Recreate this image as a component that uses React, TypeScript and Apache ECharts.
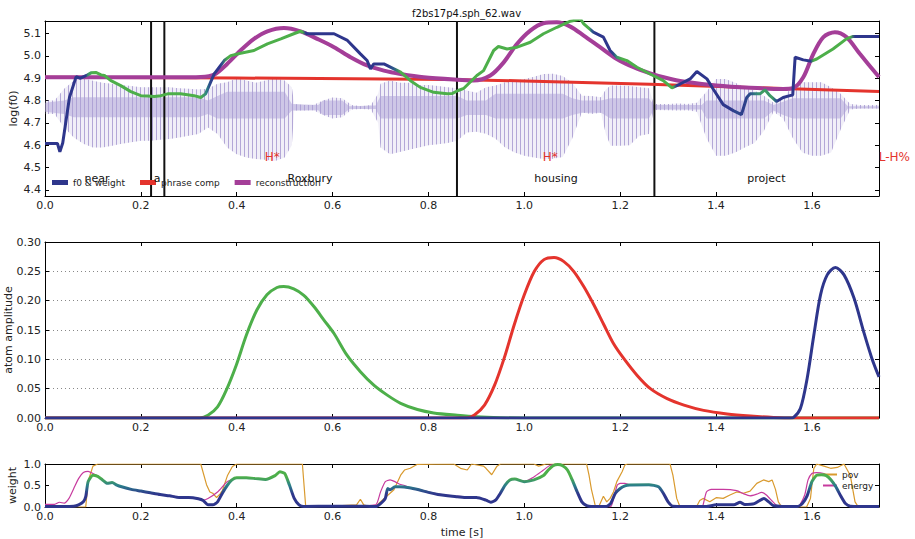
import React, { useEffect, useRef } from 'react';
import * as echarts from 'echarts';

const FONT = 'DejaVu Sans';
const NAVY = '#2e368c';
const TEAL = '#2b7f8a';
const GREEN = '#4daf4a';
const RED = '#e4342d';
const PURPLE = '#a43e98';
const ORANGE = '#d99a2e';
const MAGENTA = '#c73a9e';

const X_MAX = 1.74;
const F0_MIN = 4.373;
const F0_MAX = 5.156;
const f0TickValues = [4.4, 4.5, 4.6, 4.7, 4.8, 4.9, 5.0, 5.1];

const wordLabels = ['near', 'a', 'Roxbury', 'housing', 'project'];
const wordTimes = [0.1086, 0.2338, 0.553, 1.066, 1.505];
const wordLevel = 4.453;
const toneLabels = ['H*', 'H*', 'L-H%'];
const toneTimes = [0.474, 1.054, 1.772];
const toneLevel = 4.547;
const boundaries = [0.2213, 0.249, 0.8595, 1.2714];

const f0Data: number[][] = [
  [0, 4.608], [0.026, 4.608], [0.031, 4.571], [0.037, 4.61], [0.051, 4.814], [0.065, 4.907], [0.074, 4.9],
  [0.089, 4.915], [0.096, 4.924], [0.106, 4.926], [0.117, 4.915], [0.124, 4.912], [0.1375, 4.889], [0.158, 4.867],
  [0.179, 4.84], [0.2, 4.822], [0.214, 4.82], [0.228, 4.818], [0.242, 4.822], [0.256, 4.83], [0.283, 4.83],
  [0.311, 4.822], [0.325, 4.814], [0.335, 4.83], [0.353, 4.919], [0.374, 4.979], [0.3875, 5.001], [0.408, 5.012],
  [0.436, 5.024], [0.464, 5.054], [0.492, 5.076], [0.519, 5.099], [0.533, 5.11], [0.547, 5.099], [0.603, 5.099],
  [0.631, 5.069], [0.658, 5.009], [0.672, 4.979], [0.679, 4.942], [0.686, 4.964], [0.707, 4.964], [0.728, 4.942],
  [0.742, 4.927], [0.7625, 4.889], [0.783, 4.859], [0.811, 4.837], [0.839, 4.83], [0.85, 4.832], [0.862, 4.845],
  [0.874, 4.855], [0.901, 4.912], [0.915, 4.934], [0.936, 5.024], [0.946, 5.042], [0.964, 5.031], [0.985, 5.039],
  [1.0125, 5.061], [1.04, 5.099], [1.068, 5.128], [1.096, 5.155], [1.117, 5.165], [1.124, 5.143], [1.144, 5.106],
  [1.165, 5.084], [1.179, 5.024], [1.193, 4.994], [1.214, 4.979], [1.235, 4.949], [1.2625, 4.919], [1.29, 4.889],
  [1.308, 4.857], [1.325, 4.874], [1.346, 4.897], [1.36, 4.93], [1.381, 4.897], [1.394, 4.852], [1.415, 4.782],
  [1.436, 4.755], [1.453, 4.737], [1.464, 4.814], [1.471, 4.83], [1.4917, 4.83], [1.502, 4.848], [1.5125, 4.822],
  [1.526, 4.796], [1.54, 4.814], [1.554, 4.822], [1.56, 4.825], [1.565, 4.994], [1.582, 4.982], [1.599, 4.976],
  [1.61, 4.986], [1.644, 5.031], [1.672, 5.076], [1.686, 5.087], [1.74, 5.087],
];

const phraseData: number[][] = [
  [0, 4.904], [0.4, 4.901], [0.846, 4.894], [1.0, 4.888], [1.2625, 4.873], [1.54, 4.854], [1.74, 4.841],
];

const reconData: number[][] = [
  [0, 4.904], [0.3, 4.904], [0.325, 4.905], [0.353, 4.916], [0.38, 4.964], [0.408, 5.024], [0.436, 5.076],
  [0.464, 5.11], [0.4986, 5.125], [0.533, 5.11], [0.568, 5.076], [0.603, 5.039], [0.6375, 4.994], [0.672, 4.957],
  [0.707, 4.934], [0.742, 4.919], [0.79, 4.904], [0.86, 4.893], [0.894, 4.89], [0.929, 4.912], [0.957, 4.971],
  [0.985, 5.054], [1.0125, 5.113], [1.04, 5.146], [1.068, 5.15], [1.096, 5.131], [1.124, 5.091], [1.158, 5.039],
  [1.193, 4.986], [1.228, 4.949], [1.2625, 4.922], [1.297, 4.901], [1.332, 4.885], [1.401, 4.867], [1.471, 4.857],
  [1.54, 4.852], [1.56, 4.855], [1.582, 4.904], [1.603, 5.009], [1.624, 5.084], [1.648, 5.106], [1.672, 5.084],
  [1.7, 5.009], [1.74, 4.905],
];

// waveform envelope: [t, low, high]
const waveOuter: number[][] = [
  [0, 4.74, 4.8], [0.02, 4.74, 4.8], [0.04, 4.68, 4.853], [0.06, 4.635, 4.889], [0.08, 4.607, 4.9],
  [0.1, 4.59, 4.889], [0.12, 4.59, 4.88], [0.14, 4.598, 4.875], [0.16, 4.607, 4.87], [0.18, 4.613, 4.865],
  [0.2, 4.62, 4.86], [0.22, 4.62, 4.86], [0.24, 4.625, 4.86], [0.26, 4.628, 4.86], [0.28, 4.635, 4.855],
  [0.3, 4.643, 4.853], [0.32, 4.65, 4.85], [0.34, 4.68, 4.853], [0.36, 4.65, 4.875], [0.38, 4.59, 4.882],
  [0.4, 4.56, 4.9], [0.42, 4.545, 4.89], [0.44, 4.538, 4.88], [0.46, 4.535, 4.89], [0.48, 4.53, 4.9],
  [0.5, 4.545, 4.89], [0.515, 4.6, 4.86], [0.52, 4.755, 4.785], [0.54, 4.755, 4.78], [0.56, 4.757, 4.78],
  [0.58, 4.735, 4.8], [0.6, 4.72, 4.814], [0.62, 4.725, 4.81], [0.64, 4.76, 4.78], [0.66, 4.762, 4.775],
  [0.68, 4.76, 4.78], [0.695, 4.7, 4.83], [0.7, 4.59, 4.875], [0.72, 4.56, 4.89], [0.74, 4.57, 4.88],
  [0.76, 4.58, 4.88], [0.78, 4.59, 4.87], [0.8, 4.6, 4.87], [0.82, 4.605, 4.865], [0.84, 4.61, 4.86],
  [0.86, 4.62, 4.855], [0.88, 4.657, 4.845], [0.9, 4.66, 4.835], [0.92, 4.652, 4.86], [0.94, 4.629, 4.867],
  [0.96, 4.59, 4.882], [0.98, 4.568, 4.889], [1.0, 4.553, 4.897], [1.02, 4.545, 4.906], [1.04, 4.538, 4.919],
  [1.06, 4.54, 4.92], [1.08, 4.548, 4.91], [1.1, 4.63, 4.88], [1.12, 4.747, 4.822], [1.14, 4.74, 4.82],
  [1.16, 4.745, 4.815], [1.17, 4.65, 4.85], [1.18, 4.598, 4.867], [1.2, 4.598, 4.867], [1.22, 4.6, 4.865],
  [1.24, 4.643, 4.86], [1.26, 4.65, 4.855], [1.27, 4.758, 4.785], [1.3, 4.757, 4.785], [1.32, 4.755, 4.787],
  [1.34, 4.757, 4.785], [1.36, 4.75, 4.79], [1.38, 4.633, 4.84], [1.4, 4.553, 4.897], [1.42, 4.553, 4.897],
  [1.44, 4.568, 4.88], [1.46, 4.59, 4.86], [1.48, 4.61, 4.845], [1.5, 4.665, 4.822], [1.52, 4.75, 4.79],
  [1.54, 4.72, 4.81], [1.56, 4.633, 4.867], [1.58, 4.568, 4.882], [1.6, 4.553, 4.882], [1.62, 4.553, 4.882],
  [1.64, 4.568, 4.86], [1.66, 4.67, 4.83], [1.68, 4.76, 4.785], [1.7, 4.765, 4.78], [1.74, 4.765, 4.78],
];

const waveCore: number[][] = [
  [0, 4.75, 4.79], [0.04, 4.74, 4.8], [0.06, 4.725, 4.815], [0.32, 4.725, 4.815], [0.34, 4.74, 4.8],
  [0.36, 4.72, 4.82], [0.38, 4.72, 4.84], [0.5, 4.72, 4.84], [0.515, 4.755, 4.785], [0.57, 4.757, 4.78],
  [0.58, 4.735, 4.8], [0.62, 4.735, 4.8], [0.635, 4.762, 4.775], [0.69, 4.762, 4.778], [0.7, 4.72, 4.82],
  [0.86, 4.72, 4.82], [0.88, 4.735, 4.8], [0.92, 4.735, 4.8], [0.94, 4.72, 4.83], [1.08, 4.72, 4.83],
  [1.1, 4.735, 4.81], [1.12, 4.745, 4.8], [1.16, 4.745, 4.8], [1.18, 4.72, 4.81], [1.26, 4.72, 4.81],
  [1.27, 4.76, 4.78], [1.37, 4.76, 4.78], [1.38, 4.72, 4.8], [1.5, 4.72, 4.8], [1.52, 4.755, 4.78],
  [1.54, 4.735, 4.795], [1.56, 4.72, 4.81], [1.66, 4.72, 4.81], [1.675, 4.765, 4.775], [1.74, 4.765, 4.775],
];

const atomGreen: number[][] = [
  [0, 0], [0.323, 0], [0.34, 0.0046], [0.36, 0.019], [0.378, 0.047], [0.399, 0.09], [0.42, 0.141], [0.442, 0.184],
  [0.463, 0.21], [0.484, 0.2224], [0.498, 0.224], [0.519, 0.22], [0.54, 0.209], [0.561, 0.19], [0.582, 0.167],
  [0.603, 0.144], [0.63, 0.107], [0.658, 0.079], [0.686, 0.056], [0.714, 0.039], [0.742, 0.025], [0.777, 0.0144],
  [0.811, 0.0086], [0.86, 0.0046], [0.9, 0.002], [0.95, 0.0005], [1.0, 0], [1.74, 0],
];
const atomRed: number[][] = [
  [0, 0], [0.88, 0], [0.896, 0.005], [0.917, 0.022], [0.938, 0.056], [0.958, 0.102], [0.979, 0.159], [1.0, 0.21],
  [1.021, 0.25], [1.041, 0.27], [1.062, 0.2737], [1.082, 0.267], [1.103, 0.25], [1.124, 0.224], [1.145, 0.193],
  [1.166, 0.159], [1.186, 0.127], [1.207, 0.102], [1.235, 0.073], [1.263, 0.05], [1.298, 0.033], [1.333, 0.022],
  [1.374, 0.013], [1.423, 0.007], [1.472, 0.0034], [1.52, 0.001], [1.56, 0], [1.74, 0],
];
const atomNavy: number[][] = [
  [0, 0], [1.555, 0], [1.562, 0.001], [1.576, 0.016], [1.59, 0.067], [1.604, 0.141], [1.618, 0.21], [1.632, 0.244],
  [1.649, 0.2566], [1.667, 0.244], [1.688, 0.204], [1.708, 0.147], [1.725, 0.102], [1.74, 0.07],
];

const povData: number[][] = [
  [0, 0], [0.085, 0], [0.09, 0.6], [0.1, 0.95], [0.11, 1.0], [0.325, 1.0], [0.337, 0.52], [0.344, 0.35],
  [0.35, 0.32], [0.358, 0.22], [0.365, 0.3], [0.37, 0.38], [0.381, 0.74], [0.391, 0.94], [0.4, 1.0], [0.537, 1.0],
  [0.544, 0], [0.6, 0.02], [0.65, 0.05], [0.658, 0.18], [0.665, 0.05], [0.679, 0], [0.69, 0.02], [0.714, 0.26],
  [0.728, 0.4], [0.742, 0.74], [0.75, 0.86], [0.762, 0.9], [0.776, 0.99], [0.853, 1.0], [0.867, 0.9], [0.881, 0.86],
  [0.89, 1.0], [0.915, 0.95], [0.92, 0.9], [0.932, 0.75], [0.943, 0.95], [0.95, 1.0], [1.02, 1.0], [1.03, 0.95],
  [1.045, 1.0], [1.13, 1.0], [1.135, 0.74], [1.14, 0.41], [1.148, 0.03], [1.155, 0], [1.165, 0.25], [1.172, 0.12],
  [1.179, 0.2], [1.186, 0.35], [1.193, 0.59], [1.204, 0.82], [1.21, 0.98], [1.215, 1.0], [1.304, 1.0], [1.31, 0.74],
  [1.318, 0.2], [1.325, 0], [1.359, 0], [1.366, 0.15], [1.373, 0.2], [1.387, 0.12], [1.401, 0.22], [1.415, 0.2],
  [1.429, 0.28], [1.443, 0.35], [1.457, 0.32], [1.471, 0.37], [1.485, 0.55], [1.499, 0.63], [1.51, 0.59],
  [1.517, 0.63], [1.524, 0.41], [1.53, 0.12], [1.537, 0], [1.589, 0], [1.597, 0.2], [1.604, 0.9], [1.61, 1.0],
  [1.625, 0.95], [1.639, 0.9], [1.653, 0.92], [1.667, 1.0], [1.68, 0.74], [1.69, 0.12], [1.697, 0], [1.74, 0],
];

const energyData: number[][] = [
  [0, 0.06], [0.02, 0.06], [0.03, 0.11], [0.04, 0.09], [0.05, 0.2], [0.06, 0.43], [0.07, 0.66], [0.08, 0.8],
  [0.09, 0.83], [0.1, 0.78], [0.11, 0.72], [0.12, 0.63], [0.13, 0.55], [0.14, 0.57], [0.15, 0.51], [0.16, 0.47],
  [0.18, 0.41], [0.2, 0.37], [0.22, 0.33], [0.24, 0.29], [0.26, 0.26], [0.28, 0.23], [0.3, 0.22], [0.32, 0.2],
  [0.33, 0.16], [0.34, 0.2], [0.36, 0.35], [0.38, 0.59], [0.39, 0.64], [0.4, 0.68], [0.42, 0.68], [0.44, 0.66],
  [0.46, 0.64], [0.48, 0.73], [0.49, 0.82], [0.5, 0.78], [0.51, 0.51], [0.52, 0.2], [0.53, 0.05], [0.54, 0.02],
  [0.6, 0.03], [0.65, 0.03], [0.69, 0.05], [0.7, 0.35], [0.71, 0.59], [0.72, 0.63], [0.73, 0.59], [0.74, 0.53],
  [0.75, 0.5], [0.76, 0.46], [0.78, 0.41], [0.8, 0.35], [0.82, 0.3], [0.84, 0.27], [0.86, 0.25], [0.88, 0.23],
  [0.9, 0.22], [0.92, 0.17], [0.93, 0.12], [0.94, 0.17], [0.95, 0.33], [0.96, 0.52], [0.97, 0.63], [0.98, 0.65],
  [1.0, 0.6], [1.02, 0.7], [1.04, 0.86], [1.054, 0.97], [1.07, 0.99], [1.08, 0.96], [1.09, 0.86], [1.1, 0.63],
  [1.11, 0.36], [1.12, 0.12], [1.13, 0.03], [1.14, 0.01], [1.18, 0.01], [1.1875, 0.26], [1.194, 0.51], [1.2, 0.55],
  [1.21, 0.55], [1.22, 0.52], [1.26, 0.52], [1.28, 0.47], [1.29, 0.32], [1.3, 0.12], [1.31, 0.02], [1.37, 0.02],
  [1.373, 0.05], [1.38, 0.35], [1.39, 0.41], [1.415, 0.41], [1.443, 0.38], [1.457, 0.31], [1.471, 0.26],
  [1.485, 0.3], [1.495, 0.34], [1.505, 0.28], [1.517, 0.14], [1.525, 0.05], [1.53, 0.01], [1.57, 0.01],
  [1.575, 0.05], [1.585, 0.28], [1.592, 0.63], [1.6, 0.78], [1.61, 0.8], [1.625, 0.78], [1.63, 0.74], [1.64, 0.64],
  [1.65, 0.48], [1.66, 0.27], [1.67, 0.09], [1.68, 0.03], [1.74, 0.02],
];

const weightData: number[][] = [
  [0, 0.01], [0.04, 0.01], [0.06, 0.02], [0.07, 0.05], [0.08, 0.12], [0.085, 0.24], [0.09, 0.59], [0.1, 0.74],
  [0.11, 0.71], [0.12, 0.63], [0.13, 0.55], [0.14, 0.57], [0.15, 0.51], [0.16, 0.47], [0.18, 0.41], [0.2, 0.37],
  [0.22, 0.33], [0.24, 0.29], [0.26, 0.26], [0.28, 0.22], [0.3, 0.22], [0.32, 0.19], [0.33, 0.15], [0.34, 0.05],
  [0.35, 0.05], [0.36, 0.12], [0.37, 0.32], [0.38, 0.5], [0.39, 0.63], [0.4, 0.68], [0.42, 0.68], [0.44, 0.66],
  [0.46, 0.64], [0.48, 0.73], [0.49, 0.82], [0.5, 0.78], [0.51, 0.51], [0.52, 0.2], [0.53, 0.05], [0.54, 0.01],
  [0.6, 0.02], [0.65, 0.02], [0.69, 0.01], [0.7, 0.08], [0.71, 0.2], [0.715, 0.43], [0.72, 0.4], [0.73, 0.47],
  [0.74, 0.47], [0.76, 0.45], [0.78, 0.4], [0.8, 0.34], [0.82, 0.29], [0.84, 0.26], [0.86, 0.24], [0.88, 0.22],
  [0.9, 0.22], [0.92, 0.16], [0.93, 0.11], [0.94, 0.16], [0.95, 0.32], [0.96, 0.51], [0.97, 0.63], [0.98, 0.65],
  [1.0, 0.59], [1.02, 0.63], [1.04, 0.73], [1.05, 0.86], [1.06, 0.96], [1.07, 0.99], [1.08, 0.96], [1.09, 0.86],
  [1.1, 0.63], [1.11, 0.36], [1.12, 0.12], [1.13, 0.03], [1.14, 0.01], [1.17, 0.01], [1.18, 0.08], [1.19, 0.32],
  [1.2, 0.43], [1.21, 0.49], [1.22, 0.51], [1.26, 0.52], [1.28, 0.47], [1.29, 0.32], [1.3, 0.12], [1.31, 0.02],
  [1.38, 0.01], [1.4, 0.05], [1.42, 0.05], [1.44, 0.06], [1.45, 0.11], [1.46, 0.06], [1.48, 0.08], [1.5, 0.2],
  [1.51, 0.12], [1.52, 0.03], [1.57, 0.01], [1.58, 0.08], [1.59, 0.26], [1.6, 0.59], [1.61, 0.74], [1.62, 0.75],
  [1.63, 0.73], [1.64, 0.63], [1.65, 0.47], [1.66, 0.26], [1.67, 0.08], [1.68, 0.02], [1.74, 0.01],
];

const hex = (h: string) => [parseInt(h.slice(1, 3), 16), parseInt(h.slice(3, 5), 16), parseInt(h.slice(5, 7), 16)];
const mix = (a: string, b: string, f: number) => {
  const A = hex(a);
  const B = hex(b);
  const c = A.map((v, i) => Math.round(v + (B[i] - v) * f));
  return `rgb(${c[0]},${c[1]},${c[2]})`;
};
const weightColor = (w: number) => {
  const f = Math.min(1, Math.max(0, (w - 0.3) / 0.4));
  return f < 0.5 ? mix(NAVY, TEAL, f * 2) : mix(TEAL, GREEN, (f - 0.5) * 2);
};

const makeStripe = () => {
  const c = document.createElement('canvas');
  c.width = 4;
  c.height = 4;
  const ctx = c.getContext('2d');
  if (ctx) {
    ctx.fillStyle = 'rgba(172,160,212,0.9)';
    ctx.fillRect(0, 0, 1, 4);
  }
  return { image: c, repeat: 'repeat', imageWidth: 4, imageHeight: 4 };
};

export default function App() {
  const ref = useRef<HTMLDivElement>(null);

  useEffect(() => {
    if (!ref.current) return;
    const chart = echarts.init(ref.current, undefined, { renderer: 'svg' });
    const stripe = makeStripe();

    const axisLine = { show: true, onZero: false, lineStyle: { color: '#000', width: 1 } };
    const tick = { show: true, inside: true, length: 4, lineStyle: { color: '#000', width: 1 } };
    const lbl = { color: '#222', fontSize: 11, fontFamily: FONT };

    const xAxes: any[] = [];
    const yAxes: any[] = [];
    [0, 1, 2].forEach((g) => {
      ['bottom', 'top'].forEach((pos) => {
        xAxes.push({
          type: 'value', gridIndex: g, min: 0, max: X_MAX, interval: 0.2, position: pos,
          axisLine, axisTick: tick,
          axisLabel: {
            ...lbl, show: pos === 'bottom', margin: 4, showMaxLabel: false,
            formatter: (v: number) => v.toFixed(1),
          },
          splitLine: { show: false },
          ...(g === 2 && pos === 'bottom'
            ? { name: 'time [s]', nameLocation: 'middle', nameGap: 20, nameTextStyle: { ...lbl, fontSize: 11 } }
            : {}),
        });
      });
    });
    const yCfg = [
      { name: 'log(f0)', gap: 26 },
      { name: 'atom amplitude', gap: 31 },
      { name: 'weight', gap: 27 },
    ];
    [0, 1, 2].forEach((g) => {
      ['left', 'right'].forEach((pos) => {
        const base: any = {
          type: 'value', gridIndex: g, position: pos, axisLine, splitLine: { show: false },
        };
        const showL = pos === 'left';
        if (g === 0) {
          Object.assign(base, {
            min: F0_MIN, max: F0_MAX,
            axisTick: { ...tick, customValues: f0TickValues },
            axisLabel: { ...lbl, show: showL, margin: 4, customValues: f0TickValues, formatter: (v: number) => v.toFixed(1) },
          });
        } else if (g === 1) {
          Object.assign(base, {
            min: 0, max: 0.3, interval: 0.05, axisTick: tick,
            axisLabel: { ...lbl, show: showL, margin: 4, formatter: (v: number) => v.toFixed(2) },
            splitLine: { show: showL, lineStyle: { color: '#888', type: [1, 3], width: 1 } },
          });
        } else {
          Object.assign(base, {
            min: 0, max: 1, interval: 0.5, axisTick: tick,
            axisLabel: { ...lbl, show: showL, margin: 4, formatter: (v: number) => v.toFixed(1) },
          });
        }
        if (showL) {
          Object.assign(base, {
            name: yCfg[g].name, nameLocation: 'middle', nameGap: yCfg[g].gap, nameMoveOverlap: false,
            nameTextStyle: { ...lbl, fontSize: 11 },
          });
        }
        yAxes.push(base);
      });
    });

    const band = (rows: number[][], fills: any[], z: number) => ({
      type: 'custom', xAxisIndex: 0, yAxisIndex: 0, z, silent: true, clip: true,
      data: rows, encode: { x: 0, y: [1, 2] },
      renderItem: (params: any, api: any) => {
        if (params.dataIndex !== 0) return null;
        const pts: number[][] = [];
        rows.forEach((r) => pts.push(api.coord([r[0], r[2]])));
        for (let i = rows.length - 1; i >= 0; i--) pts.push(api.coord([rows[i][0], rows[i][1]]));
        return {
          type: 'group',
          children: fills.map((f) => ({ type: 'polygon', shape: { points: pts }, style: { fill: f } })),
        };
      },
    });

    const textSeries = (times: number[], level: number, labels: string[], color: string, size: number) => ({
      type: 'custom', xAxisIndex: 0, yAxisIndex: 0, z: 6, silent: true,
      data: times.map((t) => [t, level]), encode: { x: 0, y: 1 },
      renderItem: (params: any, api: any) => {
        const p = api.coord([api.value(0), api.value(1)]);
        return {
          type: 'text', x: p[0], y: p[1],
          style: { text: labels[params.dataIndex], fill: color, fontSize: size, fontFamily: FONT, align: 'center', verticalAlign: 'middle' },
        };
      },
    });

    const f0Gradient = new echarts.graphic.LinearGradient(
      0, 0, 1, 0,
      povData.map(([t, p]) => ({ offset: Math.min(1, t / X_MAX), color: weightColor(p) })),
    );

    const series: any[] = [
      band(waveOuter, ['rgba(184,174,220,0.2)', stripe], 1),
      band(waveCore, ['rgba(172,160,214,0.5)'], 1),
      {
        type: 'custom', xAxisIndex: 0, yAxisIndex: 0, z: 2, silent: true,
        data: boundaries.map((t) => [t, F0_MIN, F0_MAX]), encode: { x: 0, y: [1, 2] },
        renderItem: (params: any, api: any) => {
          const a = api.coord([api.value(0), api.value(2)]);
          const b = api.coord([api.value(0), api.value(1)]);
          return { type: 'line', shape: { x1: a[0], y1: a[1], x2: b[0], y2: b[1] }, style: { stroke: '#111', lineWidth: 2 } };
        },
      },
      {
        name: 'phrase comp', type: 'line', xAxisIndex: 0, yAxisIndex: 0, z: 3, data: phraseData,
        showSymbol: false, symbol: 'none', lineStyle: { color: RED, width: 3 }, itemStyle: { color: RED },
      },
      {
        name: 'reconstruction', type: 'line', xAxisIndex: 0, yAxisIndex: 0, z: 4, data: reconData, smooth: 0.3,
        showSymbol: false, symbol: 'none', lineStyle: { color: PURPLE, width: 4 }, itemStyle: { color: PURPLE },
      },
      {
        name: 'f0 & weight', type: 'line', xAxisIndex: 0, yAxisIndex: 0, z: 5, data: f0Data,
        showSymbol: false, symbol: 'none', lineStyle: { color: f0Gradient, width: 3 }, itemStyle: { color: NAVY },
      },
      textSeries(wordTimes, wordLevel, wordLabels, '#111', 11),
      textSeries(toneTimes, toneLevel, toneLabels, RED, 12),
      {
        type: 'line', xAxisIndex: 2, yAxisIndex: 2, data: atomGreen, smooth: 0.3, showSymbol: false, symbol: 'none',
        lineStyle: { color: GREEN, width: 3 }, z: 3,
      },
      {
        type: 'line', xAxisIndex: 2, yAxisIndex: 2, data: atomRed, smooth: 0.3, showSymbol: false, symbol: 'none',
        lineStyle: { color: RED, width: 3 }, z: 4,
      },
      {
        type: 'line', xAxisIndex: 2, yAxisIndex: 2, data: atomNavy, smooth: 0.3, showSymbol: false, symbol: 'none',
        lineStyle: { color: NAVY, width: 3 }, z: 5,
      },
      {
        name: 'pov', type: 'line', xAxisIndex: 4, yAxisIndex: 4, data: povData, showSymbol: false, symbol: 'none',
        lineStyle: { color: ORANGE, width: 1.2 }, itemStyle: { color: ORANGE }, z: 3,
      },
      {
        name: 'energy', type: 'line', xAxisIndex: 4, yAxisIndex: 4, data: energyData, smooth: 0.2, showSymbol: false,
        symbol: 'none', lineStyle: { color: MAGENTA, width: 1.2 }, itemStyle: { color: MAGENTA }, z: 3,
      },
    ];
    const weightIndex = series.length;
    series.push({
      name: 'weight', type: 'line', xAxisIndex: 4, yAxisIndex: 4, data: weightData, smooth: 0.2, showSymbol: false,
      symbol: 'none', lineStyle: { width: 3 }, z: 4,
    });

    chart.setOption({
      animation: false,
      textStyle: { fontFamily: FONT },
      title: {
        text: 'f2bs17p4.sph_62.wav', left: 407, top: 3,
        textStyle: { fontSize: 10, fontWeight: 'normal', color: '#111', fontFamily: FONT },
      },
      grid: [
        { left: 45, top: 21, width: 834, height: 175, outerBoundsMode: 'none', containLabel: false },
        { left: 45, top: 242, width: 834, height: 176, outerBoundsMode: 'none', containLabel: false },
        { left: 45, top: 464, width: 834, height: 43, outerBoundsMode: 'none', containLabel: false },
      ],
      xAxis: xAxes,
      yAxis: yAxes,
      visualMap: [{
        type: 'continuous', show: false, seriesIndex: weightIndex, dimension: 1, min: 0.3, max: 0.7,
        inRange: { color: [NAVY, TEAL, GREEN] },
      }],
      legend: [
        {
          left: 52, top: 178, padding: 0, itemWidth: 16, itemHeight: 5, itemGap: 15, selectedMode: false,
          textStyle: { fontSize: 9, color: '#222', fontFamily: FONT },
          data: [
            { name: 'f0 & weight', icon: 'rect', itemStyle: { color: NAVY } },
            { name: 'phrase comp', icon: 'rect', itemStyle: { color: RED } },
            { name: 'reconstruction', icon: 'rect', itemStyle: { color: PURPLE } },
          ],
        },
        {
          left: 823, top: 470, padding: 0, orient: 'vertical', itemWidth: 14, itemHeight: 2, itemGap: 2,
          selectedMode: false, textStyle: { fontSize: 9, color: '#222', fontFamily: FONT },
          data: [
            { name: 'pov', icon: 'rect', itemStyle: { color: ORANGE } },
            { name: 'energy', icon: 'rect', itemStyle: { color: MAGENTA } },
          ],
        },
      ],
      series,
    });

    return () => chart.dispose();
  }, []);

  return <div ref={ref} style={{ position: 'absolute', left: 0, top: 0, width: 915, height: 539 }} />;
}
